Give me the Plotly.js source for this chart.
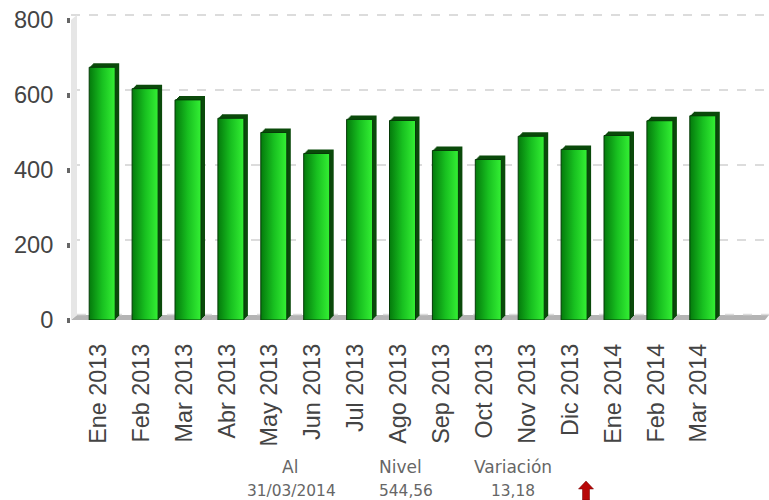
<!DOCTYPE html>
<html>
<head>
<meta charset="utf-8">
<script src="https://cdn.plot.ly/plotly-3.0.1.min.js"></script>
<style>html,body{margin:0;padding:0;background:#fff}#chart{width:769px;height:500px}</style>
</head>
<body>
<div id="chart"></div>
<script>
const categories = ["Ene 2013","Feb 2013","Mar 2013","Abr 2013","May 2013","Jun 2013","Jul 2013","Ago 2013","Sep 2013","Oct 2013","Nov 2013","Dic 2013","Ene 2014","Feb 2014","Mar 2014"];
const values = [674,617,587,538,500,444,535,532,452,428,490,455,492,531.38,544.56];
const yTicks = [0,200,400,600,800];
const gridTicks = [200,400,600,800];
const footerHead = ["Al","Nivel","Variación"];
const footerVals = ["31/03/2014","544,56","13,18"];

const W=769,H=500,L=71,R=769,T=12,B=320;
const px=x=>(x-L)/(R-L), py=y=>(B-y)/(B-T);
const pxPerCat=42.9, barPx=26, pxPerUnit=0.375, depth=4;
const barW=barPx/pxPerCat;

const traces=[{type:'scatter',mode:'none',x:categories,y:values,yaxis:'y',hoverinfo:'skip',showlegend:false}];
for(let k=depth;k>=1;k--){
  traces.push({type:'bar',x:categories,y:values,base:k/pxPerUnit,yaxis:'y2',
    width:barW,offset:-barW/2+k/pxPerCat,
    marker:{color:'#0b4a0b',line:{width:0}},hoverinfo:'skip',showlegend:false});
}
traces.push({type:'bar',x:categories,y:values,yaxis:'y2',width:barW,offset:-barW/2,
  marker:{color:'#16a51c',line:{width:1,color:'#063a08'}},showlegend:false,name:'Nivel'});

const poly=pts=>'M'+pts.map(p=>px(p[0])+','+py(p[1])).join('L')+'Z';
const shapes=[
  {type:'path',xref:'paper',yref:'paper',layer:'below',line:{width:0},fillcolor:'#b4b4b4',
   path:poly([[71,320],[77,315],[769,315],[765,320]])},
  {type:'line',xref:'paper',yref:'paper',layer:'below',x0:px(77),x1:px(769),y0:py(314.5),y1:py(314.5),
   line:{width:1.5,color:'#dcdcdc',dash:'dash'}},
  {type:'path',xref:'paper',yref:'paper',layer:'above',line:{width:0},fillcolor:'#e6e6e6',
   path:poly([[71,20],[77,15],[77,315],[71,320]])},
  {type:'path',xref:'paper',yref:'paper',layer:'above',line:{width:0.5,color:'#700000'},fillcolor:'#b80808',
   path:poly([[586,481],[593.5,489],[589.5,489],[589.5,500],[582.5,500],[582.5,489],[578.5,489]])}
];
const headFont={family:'"DejaVu Sans",sans-serif',size:17,color:'#666'};
const valFont={family:'"DejaVu Sans",sans-serif',size:15.4,color:'#666'};
const annX=[290,400,513], annX2=[291,406,513];
const annotations=[];
footerHead.forEach((t,i)=>annotations.push({xref:'paper',yref:'paper',x:px(annX[i]),y:py(467),text:t,showarrow:false,font:headFont,xanchor:'center',yanchor:'middle'}));
footerVals.forEach((t,i)=>annotations.push({xref:'paper',yref:'paper',x:px(annX2[i]),y:py(491),text:t,showarrow:false,font:valFont,xanchor:'center',yanchor:'middle'}));

const layout={
  width:W,height:H,margin:{l:L,r:W-R,t:T,b:H-B,pad:0},
  paper_bgcolor:'#fff',plot_bgcolor:'rgba(0,0,0,0)',barmode:'overlay',showlegend:false,
  font:{family:'"Liberation Sans",Arial,sans-serif',size:23,color:'#444'},
  xaxis:{type:'category',categoryorder:'array',categoryarray:categories,anchor:'y2',
    range:[-31.2/pxPerCat,-31.2/pxPerCat+(R-L)/pxPerCat],
    tickangle:-90,ticks:'',showline:false,showgrid:false,zeroline:false,tickmode:'array',tickvals:categories,ticktext:categories,
    ticklabelstandoff:18,ticklabelshift:-4,tickfont:{size:23.4,color:'#444'},fixedrange:true},
  yaxis:{domain:[0,1],range:[-5/pxPerUnit,800+3/pxPerUnit],tickvals:gridTicks,showticklabels:false,ticks:'',
    showgrid:true,gridcolor:'#dcdcdc',gridwidth:2,griddash:'dash',zeroline:false,showline:false,anchor:'x',fixedrange:true},
  yaxis2:{domain:[0,300/(B-T)],range:[0,800],tickvals:yTicks,ticktext:yTicks.map(String),
    ticks:'outside',ticklen:3,tickwidth:5,tickcolor:'#666',showgrid:false,zeroline:false,showline:false,
    anchor:'x',side:'left',ticklabelstandoff:9,tickfont:{size:23.6,color:'#444'},fixedrange:true},
  shapes:shapes,annotations:annotations
};
Plotly.newPlot('chart',traces,layout,{displayModeBar:false,staticPlot:true}).then(gd=>{
  const svg=gd.querySelector('svg.main-svg');
  const ns='http://www.w3.org/2000/svg';
  let defs=svg.querySelector('defs');
  const g=document.createElementNS(ns,'linearGradient');
  g.setAttribute('id','barGrad');g.setAttribute('x1','0');g.setAttribute('x2','1');g.setAttribute('y1','0');g.setAttribute('y2','0');
  [['0','#047a0c'],['0.5','#18c020'],['1','#34f034']].forEach(s=>{
    const st=document.createElementNS(ns,'stop');st.setAttribute('offset',s[0]);st.setAttribute('stop-color',s[1]);g.appendChild(st);
  });
  defs.appendChild(g);
  const tr=gd.querySelectorAll('.barlayer .trace');
  const front=[...tr].pop();
  front.querySelectorAll('.point path').forEach(p=>{p.style.fill='url(#barGrad)';});
});
</script>
</body>
</html>
